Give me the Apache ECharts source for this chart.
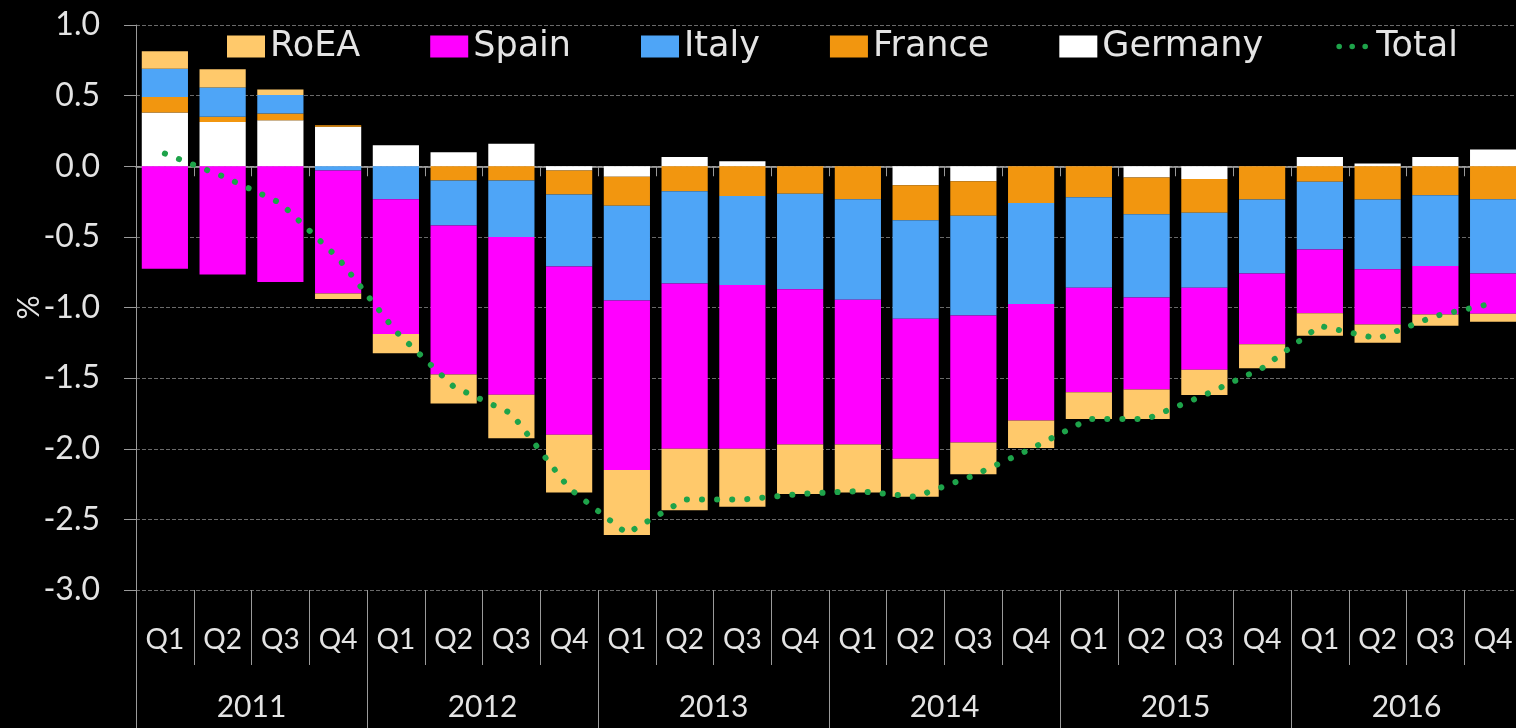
<!DOCTYPE html>
<html><head><meta charset="utf-8">
<script src="https://cdn.jsdelivr.net/npm/echarts@6/dist/echarts.min.js"></script>
<style>html,body{margin:0;padding:0;background:#000;}#c{width:1516px;height:728px;}</style>
</head><body><div id="c"></div>
<script>
const quarters = ['Q1','Q2','Q3','Q4','Q1','Q2','Q3','Q4','Q1','Q2','Q3','Q4','Q1','Q2','Q3','Q4','Q1','Q2','Q3','Q4','Q1','Q2','Q3','Q4'];
const years = ['2011','2012','2013','2014','2015','2016'];
const yTicks = {min:-3, max:1, step:0.5};

const germany = [0.38,0.314,0.326,0.28,0.149,0.10,0.16,-0.03,-0.075,0.066,0.035,0,0,-0.135,-0.106,0,0,-0.08,-0.09,0,0.066,0.02,0.066,0.118];
const france  = [0.11,0.036,0.048,0.01,0,-0.10,-0.10,-0.17,-0.205,-0.177,-0.21,-0.194,-0.234,-0.248,-0.244,-0.26,-0.22,-0.26,-0.24,-0.236,-0.11,-0.236,-0.206,-0.234];
const italy   = [0.20,0.208,0.13,-0.03,-0.234,-0.32,-0.40,-0.51,-0.67,-0.653,-0.63,-0.676,-0.711,-0.697,-0.707,-0.715,-0.64,-0.59,-0.53,-0.524,-0.48,-0.494,-0.50,-0.526];
const spain   = [-0.726,-0.766,-0.82,-0.87,-0.953,-1.055,-1.117,-1.19,-1.20,-1.17,-1.16,-1.10,-1.025,-0.99,-0.898,-0.825,-0.74,-0.65,-0.58,-0.50,-0.45,-0.39,-0.343,-0.285];
const roea    = [0.125,0.128,0.04,-0.04,-0.137,-0.205,-0.308,-0.41,-0.46,-0.435,-0.41,-0.35,-0.34,-0.27,-0.225,-0.195,-0.19,-0.21,-0.18,-0.17,-0.16,-0.13,-0.08,-0.055];
const total   = [0.09,-0.07,-0.26,-0.65,-1.17,-1.56,-1.75,-2.28,-2.60,-2.36,-2.36,-2.32,-2.30,-2.34,-2.19,-2.0,-1.79,-1.79,-1.62,-1.43,-1.13,-1.22,-1.06,-0.97];

const C = {roea:'#ffc96b', spain:'#ff00ff', italy:'#4ea5f7', france:'#f2960f', germany:'#ffffff', total:'#1ea34a'};
const axisGray = '#9a9a9a';
const txt = '#e4e4e4';

function dot(cx, cy, r){
  return 'M' + (cx - r) + ',' + cy + 'a' + r + ',' + r + ' 0 1,0 ' + (2*r) + ',0a' + r + ',' + r + ' 0 1,0 ' + (-2*r) + ',0z';
}
const dotsIcon = 'path://M0,0L0.01,0.01L0,0.01z' + dot(6,11,2.8) + dot(19,11,2.8) + dot(32,11,2.8) + 'M38,22L37.99,21.99L38,21.99z';

const chart = echarts.init(document.getElementById('c'));
function bar(name, data, color){
  return {name, type:'bar', stack:'s', data, xAxisIndex:0, barCategoryGap:'20%', itemStyle:{color}};
}
chart.setOption({
  backgroundColor:'#000',
  animation:false,
  grid:{left:136, right:-6, top:25, bottom:138, outerBoundsMode:'none', containLabel:false},
  legend:{
    data:[
      {name:'RoEA', icon:'rect'},
      {name:'Spain', icon:'rect'},
      {name:'Italy', icon:'rect'},
      {name:'France', icon:'rect'},
      {name:'Germany', icon:'rect'},
      {name:'Total', icon:dotsIcon, itemStyle:{color:C.total}}
    ],
    left:222, top:24, itemWidth:38, itemHeight:22, itemGap:70,
    textStyle:{color:txt, fontSize:35, fontFamily:'DejaVu Sans'}
  },
  xAxis:[
    {type:'category', data:quarters, position:'bottom',
     axisLine:{show:false, onZero:false},
     axisTick:{show:true, length:75, lineStyle:{color:axisGray}},
     axisLabel:{color:txt, fontSize:28, margin:36, fontFamily:'Lato', interval:0},
     splitLine:{show:false}},
    {type:'category', data:years, position:'bottom',
     axisLine:{show:false, onZero:false},
     axisTick:{show:true, length:140, lineStyle:{color:axisGray}},
     axisLabel:{color:txt, fontSize:30, margin:102, fontFamily:'Lato', interval:0},
     splitLine:{show:false}},
    {type:'category', data:quarters, position:'bottom',
     axisLine:{show:true, onZero:true, lineStyle:{color:'#b0b0b0', width:1.5}},
     axisTick:{show:true, length:10, lineStyle:{color:axisGray}},
     axisLabel:{show:false}, splitLine:{show:false}}
  ],
  yAxis:{type:'value', min:yTicks.min, max:yTicks.max, interval:yTicks.step,
    axisLine:{show:true, lineStyle:{color:axisGray}},
    axisTick:{show:true, length:12, lineStyle:{color:axisGray}},
    splitLine:{show:true, lineStyle:{color:'#6a6a6a', type:'dashed', width:1}},
    axisLabel:{formatter:v=>v.toFixed(1), color:txt, fontSize:32, margin:36, fontFamily:'Lato'},
    name:'%', nameLocation:'middle', nameGap:92, nameRotate:90, nameMoveOverlap:false,
    nameTextStyle:{color:txt, fontSize:30, fontFamily:'Lato'}},
  series:[
    bar('Germany', germany, C.germany),
    bar('France', france, C.france),
    bar('Italy', italy, C.italy),
    bar('Spain', spain, C.spain),
    bar('RoEA', roea, C.roea),
    {name:'Total', type:'line', data:total, xAxisIndex:0, symbol:'none', z:5,
     itemStyle:{color:C.total},
     lineStyle:{color:C.total, width:6, type:[0.1,15], cap:'round'}}
  ]
});
</script></body></html>
